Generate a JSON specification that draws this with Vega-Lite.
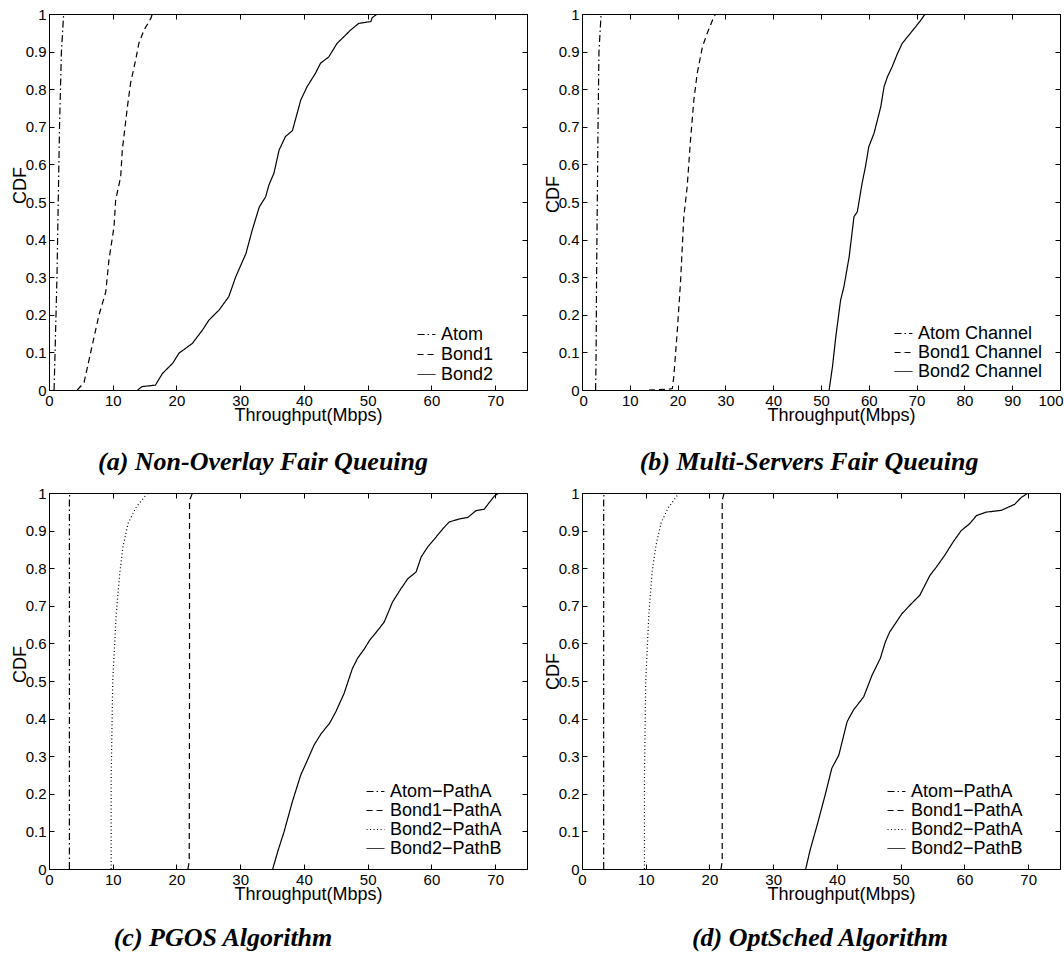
{
  "$schema": "https://vega.github.io/schema/vega-lite/v6.json",
  "background": "white",
  "padding": {"left": 10, "top": 6, "right": 0, "bottom": 0},
  "columns": 2,
  "spacing": {"row": 9, "column": 15},
  "resolve": {"scale": {"strokeDash": "independent"}, "legend": {"strokeDash": "independent"}},
  "datasets": {
    "cdf": [
      {"panel": "a", "series": "Atom", "x": 0.8, "cdf": 0},
      {"panel": "a", "series": "Atom", "x": 0.95, "cdf": 0.1},
      {"panel": "a", "series": "Atom", "x": 1.1, "cdf": 0.2},
      {"panel": "a", "series": "Atom", "x": 1.25, "cdf": 0.3},
      {"panel": "a", "series": "Atom", "x": 1.35, "cdf": 0.4},
      {"panel": "a", "series": "Atom", "x": 1.45, "cdf": 0.5},
      {"panel": "a", "series": "Atom", "x": 1.55, "cdf": 0.6},
      {"panel": "a", "series": "Atom", "x": 1.65, "cdf": 0.7},
      {"panel": "a", "series": "Atom", "x": 1.8, "cdf": 0.8},
      {"panel": "a", "series": "Atom", "x": 1.95, "cdf": 0.9},
      {"panel": "a", "series": "Atom", "x": 2.3, "cdf": 1.0},

      {"panel": "a", "series": "Bond1", "x": 4.45, "cdf": 0},
      {"panel": "a", "series": "Bond1", "x": 5.5, "cdf": 0.02},
      {"panel": "a", "series": "Bond1", "x": 6.8, "cdf": 0.12},
      {"panel": "a", "series": "Bond1", "x": 7.85, "cdf": 0.2},
      {"panel": "a", "series": "Bond1", "x": 8.9, "cdf": 0.26},
      {"panel": "a", "series": "Bond1", "x": 9.4, "cdf": 0.345},
      {"panel": "a", "series": "Bond1", "x": 10.2, "cdf": 0.434},
      {"panel": "a", "series": "Bond1", "x": 10.46, "cdf": 0.505},
      {"panel": "a", "series": "Bond1", "x": 11.25, "cdf": 0.567},
      {"panel": "a", "series": "Bond1", "x": 11.5, "cdf": 0.638},
      {"panel": "a", "series": "Bond1", "x": 12.3, "cdf": 0.753},
      {"panel": "a", "series": "Bond1", "x": 12.8, "cdf": 0.816},
      {"panel": "a", "series": "Bond1", "x": 13.6, "cdf": 0.878},
      {"panel": "a", "series": "Bond1", "x": 14.1, "cdf": 0.922},
      {"panel": "a", "series": "Bond1", "x": 14.9, "cdf": 0.957},
      {"panel": "a", "series": "Bond1", "x": 16.0, "cdf": 0.989},
      {"panel": "a", "series": "Bond1", "x": 16.2, "cdf": 1.0},

      {"panel": "a", "series": "Bond2", "x": 13.9, "cdf": 0},
      {"panel": "a", "series": "Bond2", "x": 14.6, "cdf": 0.009},
      {"panel": "a", "series": "Bond2", "x": 16.7, "cdf": 0.013},
      {"panel": "a", "series": "Bond2", "x": 17.8, "cdf": 0.044},
      {"panel": "a", "series": "Bond2", "x": 19.4, "cdf": 0.071},
      {"panel": "a", "series": "Bond2", "x": 20.4, "cdf": 0.098},
      {"panel": "a", "series": "Bond2", "x": 22.5, "cdf": 0.124},
      {"panel": "a", "series": "Bond2", "x": 24.1, "cdf": 0.16},
      {"panel": "a", "series": "Bond2", "x": 25.1, "cdf": 0.186},
      {"panel": "a", "series": "Bond2", "x": 26.7, "cdf": 0.213},
      {"panel": "a", "series": "Bond2", "x": 28.2, "cdf": 0.248},
      {"panel": "a", "series": "Bond2", "x": 29.3, "cdf": 0.301},
      {"panel": "a", "series": "Bond2", "x": 30.9, "cdf": 0.363},
      {"panel": "a", "series": "Bond2", "x": 31.9, "cdf": 0.426},
      {"panel": "a", "series": "Bond2", "x": 33.0, "cdf": 0.487},
      {"panel": "a", "series": "Bond2", "x": 34.0, "cdf": 0.514},
      {"panel": "a", "series": "Bond2", "x": 34.5, "cdf": 0.545},
      {"panel": "a", "series": "Bond2", "x": 35.3, "cdf": 0.577},
      {"panel": "a", "series": "Bond2", "x": 36.1, "cdf": 0.638},
      {"panel": "a", "series": "Bond2", "x": 37.1, "cdf": 0.674},
      {"panel": "a", "series": "Bond2", "x": 38.2, "cdf": 0.69},
      {"panel": "a", "series": "Bond2", "x": 39.5, "cdf": 0.771},
      {"panel": "a", "series": "Bond2", "x": 40.5, "cdf": 0.807},
      {"panel": "a", "series": "Bond2", "x": 41.8, "cdf": 0.842},
      {"panel": "a", "series": "Bond2", "x": 42.6, "cdf": 0.869},
      {"panel": "a", "series": "Bond2", "x": 43.9, "cdf": 0.886},
      {"panel": "a", "series": "Bond2", "x": 45.2, "cdf": 0.922},
      {"panel": "a", "series": "Bond2", "x": 46.3, "cdf": 0.94},
      {"panel": "a", "series": "Bond2", "x": 47.3, "cdf": 0.957},
      {"panel": "a", "series": "Bond2", "x": 48.6, "cdf": 0.975},
      {"panel": "a", "series": "Bond2", "x": 50.5, "cdf": 0.98},
      {"panel": "a", "series": "Bond2", "x": 50.7, "cdf": 0.99},
      {"panel": "a", "series": "Bond2", "x": 51.5, "cdf": 1.0},

      {"panel": "b", "series": "Atom Channel", "x": 2.85, "cdf": 0},
      {"panel": "b", "series": "Atom Channel", "x": 2.95, "cdf": 0.1},
      {"panel": "b", "series": "Atom Channel", "x": 3.05, "cdf": 0.3},
      {"panel": "b", "series": "Atom Channel", "x": 3.2, "cdf": 0.5},
      {"panel": "b", "series": "Atom Channel", "x": 3.35, "cdf": 0.7},
      {"panel": "b", "series": "Atom Channel", "x": 3.55, "cdf": 0.9},
      {"panel": "b", "series": "Atom Channel", "x": 4.0, "cdf": 1.0},

      {"panel": "b", "series": "Bond1 Channel", "x": 14.0, "cdf": 0},
      {"panel": "b", "series": "Bond1 Channel", "x": 17.9, "cdf": 0.002},
      {"panel": "b", "series": "Bond1 Channel", "x": 18.9, "cdf": 0.004},
      {"panel": "b", "series": "Bond1 Channel", "x": 19.2, "cdf": 0.035},
      {"panel": "b", "series": "Bond1 Channel", "x": 19.9, "cdf": 0.151},
      {"panel": "b", "series": "Bond1 Channel", "x": 20.6, "cdf": 0.284},
      {"panel": "b", "series": "Bond1 Channel", "x": 21.3, "cdf": 0.461},
      {"panel": "b", "series": "Bond1 Channel", "x": 22.0, "cdf": 0.54},
      {"panel": "b", "series": "Bond1 Channel", "x": 22.7, "cdf": 0.665},
      {"panel": "b", "series": "Bond1 Channel", "x": 23.4, "cdf": 0.771},
      {"panel": "b", "series": "Bond1 Channel", "x": 24.1, "cdf": 0.842},
      {"panel": "b", "series": "Bond1 Channel", "x": 25.2, "cdf": 0.913},
      {"panel": "b", "series": "Bond1 Channel", "x": 26.2, "cdf": 0.949},
      {"panel": "b", "series": "Bond1 Channel", "x": 27.6, "cdf": 0.993},
      {"panel": "b", "series": "Bond1 Channel", "x": 28.0, "cdf": 1.0},

      {"panel": "b", "series": "Bond2 Channel", "x": 51.7, "cdf": 0},
      {"panel": "b", "series": "Bond2 Channel", "x": 52.4, "cdf": 0.062},
      {"panel": "b", "series": "Bond2 Channel", "x": 53.1, "cdf": 0.142},
      {"panel": "b", "series": "Bond2 Channel", "x": 54.1, "cdf": 0.239},
      {"panel": "b", "series": "Bond2 Channel", "x": 54.8, "cdf": 0.275},
      {"panel": "b", "series": "Bond2 Channel", "x": 55.9, "cdf": 0.355},
      {"panel": "b", "series": "Bond2 Channel", "x": 56.9, "cdf": 0.461},
      {"panel": "b", "series": "Bond2 Channel", "x": 57.6, "cdf": 0.474},
      {"panel": "b", "series": "Bond2 Channel", "x": 58.6, "cdf": 0.55},
      {"panel": "b", "series": "Bond2 Channel", "x": 59.3, "cdf": 0.594},
      {"panel": "b", "series": "Bond2 Channel", "x": 60.0, "cdf": 0.647},
      {"panel": "b", "series": "Bond2 Channel", "x": 61.1, "cdf": 0.683},
      {"panel": "b", "series": "Bond2 Channel", "x": 62.5, "cdf": 0.753},
      {"panel": "b", "series": "Bond2 Channel", "x": 63.2, "cdf": 0.807},
      {"panel": "b", "series": "Bond2 Channel", "x": 63.9, "cdf": 0.833},
      {"panel": "b", "series": "Bond2 Channel", "x": 64.9, "cdf": 0.86},
      {"panel": "b", "series": "Bond2 Channel", "x": 66.0, "cdf": 0.895},
      {"panel": "b", "series": "Bond2 Channel", "x": 67.0, "cdf": 0.922},
      {"panel": "b", "series": "Bond2 Channel", "x": 68.4, "cdf": 0.944},
      {"panel": "b", "series": "Bond2 Channel", "x": 69.8, "cdf": 0.966},
      {"panel": "b", "series": "Bond2 Channel", "x": 70.9, "cdf": 0.984},
      {"panel": "b", "series": "Bond2 Channel", "x": 71.8, "cdf": 1.0},

      {"panel": "c", "series": "Atom−PathA", "x": 3.2, "cdf": 0},
      {"panel": "c", "series": "Atom−PathA", "x": 3.2, "cdf": 0.98},
      {"panel": "c", "series": "Atom−PathA", "x": 3.25, "cdf": 1.0},

      {"panel": "c", "series": "Bond1−PathA", "x": 21.8, "cdf": 0},
      {"panel": "c", "series": "Bond1−PathA", "x": 22.0, "cdf": 0.02},
      {"panel": "c", "series": "Bond1−PathA", "x": 22.05, "cdf": 0.5},
      {"panel": "c", "series": "Bond1−PathA", "x": 22.05, "cdf": 0.98},
      {"panel": "c", "series": "Bond1−PathA", "x": 22.5, "cdf": 1.0},

      {"panel": "c", "series": "Bond2−PathA", "x": 9.75, "cdf": 0},
      {"panel": "c", "series": "Bond2−PathA", "x": 9.75, "cdf": 0.235},
      {"panel": "c", "series": "Bond2−PathA", "x": 10.0, "cdf": 0.501},
      {"panel": "c", "series": "Bond2−PathA", "x": 10.55, "cdf": 0.679},
      {"panel": "c", "series": "Bond2−PathA", "x": 11.1, "cdf": 0.786},
      {"panel": "c", "series": "Bond2−PathA", "x": 11.6, "cdf": 0.857},
      {"panel": "c", "series": "Bond2−PathA", "x": 12.4, "cdf": 0.919},
      {"panel": "c", "series": "Bond2−PathA", "x": 13.7, "cdf": 0.963},
      {"panel": "c", "series": "Bond2−PathA", "x": 15.25, "cdf": 0.995},
      {"panel": "c", "series": "Bond2−PathA", "x": 15.5, "cdf": 1.0},

      {"panel": "c", "series": "Bond2−PathB", "x": 35.1, "cdf": 0},
      {"panel": "c", "series": "Bond2−PathB", "x": 35.9, "cdf": 0.047},
      {"panel": "c", "series": "Bond2−PathB", "x": 36.9, "cdf": 0.1},
      {"panel": "c", "series": "Bond2−PathB", "x": 38.2, "cdf": 0.18},
      {"panel": "c", "series": "Bond2−PathB", "x": 39.5, "cdf": 0.25},
      {"panel": "c", "series": "Bond2−PathB", "x": 40.3, "cdf": 0.28},
      {"panel": "c", "series": "Bond2−PathB", "x": 41.6, "cdf": 0.33},
      {"panel": "c", "series": "Bond2−PathB", "x": 42.7, "cdf": 0.36},
      {"panel": "c", "series": "Bond2−PathB", "x": 44.0, "cdf": 0.387},
      {"panel": "c", "series": "Bond2−PathB", "x": 45.0, "cdf": 0.418},
      {"panel": "c", "series": "Bond2−PathB", "x": 46.3, "cdf": 0.467},
      {"panel": "c", "series": "Bond2−PathB", "x": 47.6, "cdf": 0.533},
      {"panel": "c", "series": "Bond2−PathB", "x": 48.4, "cdf": 0.56},
      {"panel": "c", "series": "Bond2−PathB", "x": 49.5, "cdf": 0.586},
      {"panel": "c", "series": "Bond2−PathB", "x": 50.3, "cdf": 0.608},
      {"panel": "c", "series": "Bond2−PathB", "x": 51.6, "cdf": 0.635},
      {"panel": "c", "series": "Bond2−PathB", "x": 52.6, "cdf": 0.657},
      {"panel": "c", "series": "Bond2−PathB", "x": 53.9, "cdf": 0.71},
      {"panel": "c", "series": "Bond2−PathB", "x": 55.2, "cdf": 0.745},
      {"panel": "c", "series": "Bond2−PathB", "x": 56.3, "cdf": 0.772},
      {"panel": "c", "series": "Bond2−PathB", "x": 57.6, "cdf": 0.79},
      {"panel": "c", "series": "Bond2−PathB", "x": 58.4, "cdf": 0.83},
      {"panel": "c", "series": "Bond2−PathB", "x": 59.4, "cdf": 0.856},
      {"panel": "c", "series": "Bond2−PathB", "x": 60.5, "cdf": 0.878},
      {"panel": "c", "series": "Bond2−PathB", "x": 61.8, "cdf": 0.905},
      {"panel": "c", "series": "Bond2−PathB", "x": 62.8, "cdf": 0.923},
      {"panel": "c", "series": "Bond2−PathB", "x": 64.4, "cdf": 0.931},
      {"panel": "c", "series": "Bond2−PathB", "x": 65.7, "cdf": 0.935},
      {"panel": "c", "series": "Bond2−PathB", "x": 67.0, "cdf": 0.953},
      {"panel": "c", "series": "Bond2−PathB", "x": 68.3, "cdf": 0.957},
      {"panel": "c", "series": "Bond2−PathB", "x": 69.1, "cdf": 0.975},
      {"panel": "c", "series": "Bond2−PathB", "x": 69.9, "cdf": 0.992},
      {"panel": "c", "series": "Bond2−PathB", "x": 70.6, "cdf": 1.0},

      {"panel": "d", "series": "Atom−PathA", "x": 3.4, "cdf": 0},
      {"panel": "d", "series": "Atom−PathA", "x": 3.4, "cdf": 0.98},
      {"panel": "d", "series": "Atom−PathA", "x": 3.45, "cdf": 1.0},

      {"panel": "d", "series": "Bond1−PathA", "x": 21.8, "cdf": 0},
      {"panel": "d", "series": "Bond1−PathA", "x": 22.0, "cdf": 0.02},
      {"panel": "d", "series": "Bond1−PathA", "x": 22.0, "cdf": 0.5},
      {"panel": "d", "series": "Bond1−PathA", "x": 22.0, "cdf": 0.98},
      {"panel": "d", "series": "Bond1−PathA", "x": 22.3, "cdf": 1.0},

      {"panel": "d", "series": "Bond2−PathA", "x": 9.8, "cdf": 0},
      {"panel": "d", "series": "Bond2−PathA", "x": 9.8, "cdf": 0.25},
      {"panel": "d", "series": "Bond2−PathA", "x": 10.0, "cdf": 0.5},
      {"panel": "d", "series": "Bond2−PathA", "x": 10.5, "cdf": 0.68},
      {"panel": "d", "series": "Bond2−PathA", "x": 11.0, "cdf": 0.79},
      {"panel": "d", "series": "Bond2−PathA", "x": 11.6, "cdf": 0.86},
      {"panel": "d", "series": "Bond2−PathA", "x": 12.4, "cdf": 0.92},
      {"panel": "d", "series": "Bond2−PathA", "x": 13.5, "cdf": 0.96},
      {"panel": "d", "series": "Bond2−PathA", "x": 14.8, "cdf": 0.99},
      {"panel": "d", "series": "Bond2−PathA", "x": 15.2, "cdf": 1.0},

      {"panel": "d", "series": "Bond2−PathB", "x": 35.1, "cdf": 0},
      {"panel": "d", "series": "Bond2−PathB", "x": 35.8, "cdf": 0.051},
      {"panel": "d", "series": "Bond2−PathB", "x": 36.9, "cdf": 0.117},
      {"panel": "d", "series": "Bond2−PathB", "x": 38.2, "cdf": 0.2},
      {"panel": "d", "series": "Bond2−PathB", "x": 39.2, "cdf": 0.268},
      {"panel": "d", "series": "Bond2−PathB", "x": 40.3, "cdf": 0.303},
      {"panel": "d", "series": "Bond2−PathB", "x": 41.6, "cdf": 0.392},
      {"panel": "d", "series": "Bond2−PathB", "x": 42.6, "cdf": 0.423},
      {"panel": "d", "series": "Bond2−PathB", "x": 44.2, "cdf": 0.458},
      {"panel": "d", "series": "Bond2−PathB", "x": 45.5, "cdf": 0.515},
      {"panel": "d", "series": "Bond2−PathB", "x": 46.8, "cdf": 0.56},
      {"panel": "d", "series": "Bond2−PathB", "x": 47.6, "cdf": 0.604},
      {"panel": "d", "series": "Bond2−PathB", "x": 48.3, "cdf": 0.631},
      {"panel": "d", "series": "Bond2−PathB", "x": 50.2, "cdf": 0.679},
      {"panel": "d", "series": "Bond2−PathB", "x": 51.7, "cdf": 0.706},
      {"panel": "d", "series": "Bond2−PathB", "x": 53.0, "cdf": 0.728},
      {"panel": "d", "series": "Bond2−PathB", "x": 54.6, "cdf": 0.781},
      {"panel": "d", "series": "Bond2−PathB", "x": 55.6, "cdf": 0.803},
      {"panel": "d", "series": "Bond2−PathB", "x": 56.9, "cdf": 0.834},
      {"panel": "d", "series": "Bond2−PathB", "x": 58.2, "cdf": 0.869},
      {"panel": "d", "series": "Bond2−PathB", "x": 59.5, "cdf": 0.9},
      {"panel": "d", "series": "Bond2−PathB", "x": 60.8, "cdf": 0.918},
      {"panel": "d", "series": "Bond2−PathB", "x": 61.9, "cdf": 0.94},
      {"panel": "d", "series": "Bond2−PathB", "x": 63.4, "cdf": 0.949},
      {"panel": "d", "series": "Bond2−PathB", "x": 65.8, "cdf": 0.954},
      {"panel": "d", "series": "Bond2−PathB", "x": 67.9, "cdf": 0.97},
      {"panel": "d", "series": "Bond2−PathB", "x": 68.9, "cdf": 0.988},
      {"panel": "d", "series": "Bond2−PathB", "x": 70.0, "cdf": 1.0}
    ]
  },
  "concat": [
    {
      "width": 478,
      "height": 376,
      "data": {"name": "cdf"},
      "transform": [{"filter": "datum.panel === 'a'"}],
      "title": {"text": "(a) Non-Overlay Fair Queuing", "dx": -25, "offset": 25},
      "layer": [
        {
          "mark": {"type": "line", "color": "black", "strokeWidth": 1.2, "clip": true},
          "encoding": {
            "x": {"field": "x", "type": "quantitative", "scale": {"domain": [0, 75], "nice": false},
                  "axis": {"values": [0, 10, 20, 30, 40, 50, 60, 70], "title": "Throughput(Mbps)", "titleX": 259, "titleY": 30, "titleAlign": "center", "titleBaseline": "alphabetic"}},
            "y": {"field": "cdf", "type": "quantitative", "scale": {"domain": [0, 1], "nice": false},
                  "axis": {"values": [0, 0.1, 0.2, 0.3, 0.4, 0.5, 0.6, 0.7, 0.8, 0.9, 1], "format": "~g", "title": "CDF", "titleX": -29, "titleY": 171, "titleAlign": "center", "titleBaseline": "middle"}},
            "strokeDash": {"field": "series", "type": "nominal",
                           "scale": {"domain": ["Atom", "Bond1", "Bond2"], "range": [[7, 3, 1.5, 3], [6, 4], [1, 0]]},
                           "legend": {"title": null, "legendX": 368, "legendY": 311}},
            "order": {"field": "cdf", "type": "quantitative"}
          }
        },
        {
          "mark": {"type": "line", "opacity": 0},
          "encoding": {
            "x": {"field": "x", "type": "quantitative", "axis": {"orient": "top", "values": [0, 10, 20, 30, 40, 50, 60, 70], "labels": false, "title": null}},
            "y": {"field": "cdf", "type": "quantitative", "axis": {"orient": "right", "values": [0, 0.1, 0.2, 0.3, 0.4, 0.5, 0.6, 0.7, 0.8, 0.9, 1], "labels": false, "title": null}},
            "detail": {"field": "series"}
          }
        }
      ],
      "resolve": {"axis": {"x": "independent", "y": "independent"}}
    },
    {
      "width": 478,
      "height": 376,
      "data": {"name": "cdf"},
      "transform": [{"filter": "datum.panel === 'b'"}],
      "title": {"text": "(b) Multi-Servers Fair Queuing", "dx": -12, "offset": 25},
      "layer": [
        {
          "mark": {"type": "line", "color": "black", "strokeWidth": 1.2, "clip": true},
          "encoding": {
            "x": {"field": "x", "type": "quantitative", "scale": {"domain": [0, 100], "nice": false},
                  "axis": {"values": [0, 10, 20, 30, 40, 50, 60, 70, 80, 90, 100], "labelFlush": true, "labelFlushOffset": 3, "title": "Throughput(Mbps)", "titleX": 259, "titleY": 30, "titleAlign": "center", "titleBaseline": "alphabetic"}},
            "y": {"field": "cdf", "type": "quantitative", "scale": {"domain": [0, 1], "nice": false},
                  "axis": {"values": [0, 0.1, 0.2, 0.3, 0.4, 0.5, 0.6, 0.7, 0.8, 0.9, 1], "format": "~g", "title": "CDF", "titleX": -29, "titleY": 180, "titleAlign": "center", "titleBaseline": "middle"}},
            "strokeDash": {"field": "series", "type": "nominal",
                           "scale": {"domain": ["Atom Channel", "Bond1 Channel", "Bond2 Channel"], "range": [[7, 3, 1.5, 3], [6, 4], [1, 0]]},
                           "legend": {"title": null, "legendX": 312, "legendY": 310, "rowPadding": 0}},
            "order": {"field": "cdf", "type": "quantitative"}
          }
        },
        {
          "mark": {"type": "line", "opacity": 0},
          "encoding": {
            "x": {"field": "x", "type": "quantitative", "axis": {"orient": "top", "values": [0, 10, 20, 30, 40, 50, 60, 70, 80, 90, 100], "labels": false, "title": null}},
            "y": {"field": "cdf", "type": "quantitative", "axis": {"orient": "right", "values": [0, 0.1, 0.2, 0.3, 0.4, 0.5, 0.6, 0.7, 0.8, 0.9, 1], "labels": false, "title": null}},
            "detail": {"field": "series"}
          }
        }
      ],
      "resolve": {"axis": {"x": "independent", "y": "independent"}}
    },
    {
      "width": 478,
      "height": 376,
      "data": {"name": "cdf"},
      "transform": [{"filter": "datum.panel === 'c'"}],
      "title": {"text": "(c) PGOS Algorithm", "dx": -65, "offset": 22},
      "layer": [
        {
          "mark": {"type": "line", "color": "black", "strokeWidth": 1.2, "clip": true},
          "encoding": {
            "x": {"field": "x", "type": "quantitative", "scale": {"domain": [0, 75], "nice": false},
                  "axis": {"values": [0, 10, 20, 30, 40, 50, 60, 70], "title": "Throughput(Mbps)", "titleX": 259, "titleY": 30, "titleAlign": "center", "titleBaseline": "alphabetic"}},
            "y": {"field": "cdf", "type": "quantitative", "scale": {"domain": [0, 1], "nice": false},
                  "axis": {"values": [0, 0.1, 0.2, 0.3, 0.4, 0.5, 0.6, 0.7, 0.8, 0.9, 1], "format": "~g", "title": "CDF", "titleX": -29, "titleY": 171, "titleAlign": "center", "titleBaseline": "middle"}},
            "strokeDash": {"field": "series", "type": "nominal",
                           "scale": {"domain": ["Atom−PathA", "Bond1−PathA", "Bond2−PathA", "Bond2−PathB"], "range": [[7, 3, 1.5, 3], [6, 4], [1, 2.5], [1, 0]]},
                           "legend": {"title": null, "legendX": 317, "legendY": 289, "rowPadding": 0}},
            "order": {"field": "cdf", "type": "quantitative"}
          }
        },
        {
          "mark": {"type": "line", "opacity": 0},
          "encoding": {
            "x": {"field": "x", "type": "quantitative", "axis": {"orient": "top", "values": [0, 10, 20, 30, 40, 50, 60, 70], "labels": false, "title": null}},
            "y": {"field": "cdf", "type": "quantitative", "axis": {"orient": "right", "values": [0, 0.1, 0.2, 0.3, 0.4, 0.5, 0.6, 0.7, 0.8, 0.9, 1], "labels": false, "title": null}},
            "detail": {"field": "series"}
          }
        }
      ],
      "resolve": {"axis": {"x": "independent", "y": "independent"}}
    },
    {
      "width": 478,
      "height": 376,
      "data": {"name": "cdf"},
      "transform": [{"filter": "datum.panel === 'd'"}],
      "title": {"text": "(d) OptSched Algorithm", "dx": -1, "offset": 22},
      "layer": [
        {
          "mark": {"type": "line", "color": "black", "strokeWidth": 1.2, "clip": true},
          "encoding": {
            "x": {"field": "x", "type": "quantitative", "scale": {"domain": [0, 75], "nice": false},
                  "axis": {"values": [0, 10, 20, 30, 40, 50, 60, 70], "title": "Throughput(Mbps)", "titleX": 259, "titleY": 30, "titleAlign": "center", "titleBaseline": "alphabetic"}},
            "y": {"field": "cdf", "type": "quantitative", "scale": {"domain": [0, 1], "nice": false},
                  "axis": {"values": [0, 0.1, 0.2, 0.3, 0.4, 0.5, 0.6, 0.7, 0.8, 0.9, 1], "format": "~g", "title": "CDF", "titleX": -29, "titleY": 178, "titleAlign": "center", "titleBaseline": "middle"}},
            "strokeDash": {"field": "series", "type": "nominal",
                           "scale": {"domain": ["Atom−PathA", "Bond1−PathA", "Bond2−PathA", "Bond2−PathB"], "range": [[7, 3, 1.5, 3], [6, 4], [1, 2.5], [1, 0]]},
                           "legend": {"title": null, "legendX": 305, "legendY": 289, "rowPadding": 0}},
            "order": {"field": "cdf", "type": "quantitative"}
          }
        },
        {
          "mark": {"type": "line", "opacity": 0},
          "encoding": {
            "x": {"field": "x", "type": "quantitative", "axis": {"orient": "top", "values": [0, 10, 20, 30, 40, 50, 60, 70], "labels": false, "title": null}},
            "y": {"field": "cdf", "type": "quantitative", "axis": {"orient": "right", "values": [0, 0.1, 0.2, 0.3, 0.4, 0.5, 0.6, 0.7, 0.8, 0.9, 1], "labels": false, "title": null}},
            "detail": {"field": "series"}
          }
        }
      ],
      "resolve": {"axis": {"x": "independent", "y": "independent"}}
    }
  ],
  "config": {
    "font": "Liberation Sans",
    "view": {"stroke": "black", "strokeWidth": 1},
    "axis": {
      "grid": false,
      "domainColor": "black",
      "domainWidth": 1,
      "tickColor": "black",
      "tickWidth": 1,
      "tickSize": -5,
      "labelPadding": 8,
      "labelColor": "black",
      "labelFont": "Liberation Sans",
      "labelFontSize": 15,
      "labelFlush": false,
      "labelOverlap": false,
      "titleColor": "black",
      "titleFont": "Liberation Sans",
      "titleFontSize": 18,
      "titleFontWeight": "normal"
    },
    "legend": {
      "orient": "none",
      "padding": 0,
      "labelFont": "Liberation Sans",
      "labelFontSize": 18,
      "labelColor": "black",
      "labelOffset": 5,
      "rowPadding": 1,
      "symbolType": "stroke",
      "symbolStrokeColor": "black",
      "symbolStrokeWidth": 1,
      "symbolSize": 320
    },
    "title": {
      "orient": "bottom",
      "anchor": "middle",
      "font": "Liberation Serif",
      "fontSize": 26,
      "fontWeight": "bold",
      "fontStyle": "italic",
      "color": "black",
      "offset": 22
    }
  }
}
